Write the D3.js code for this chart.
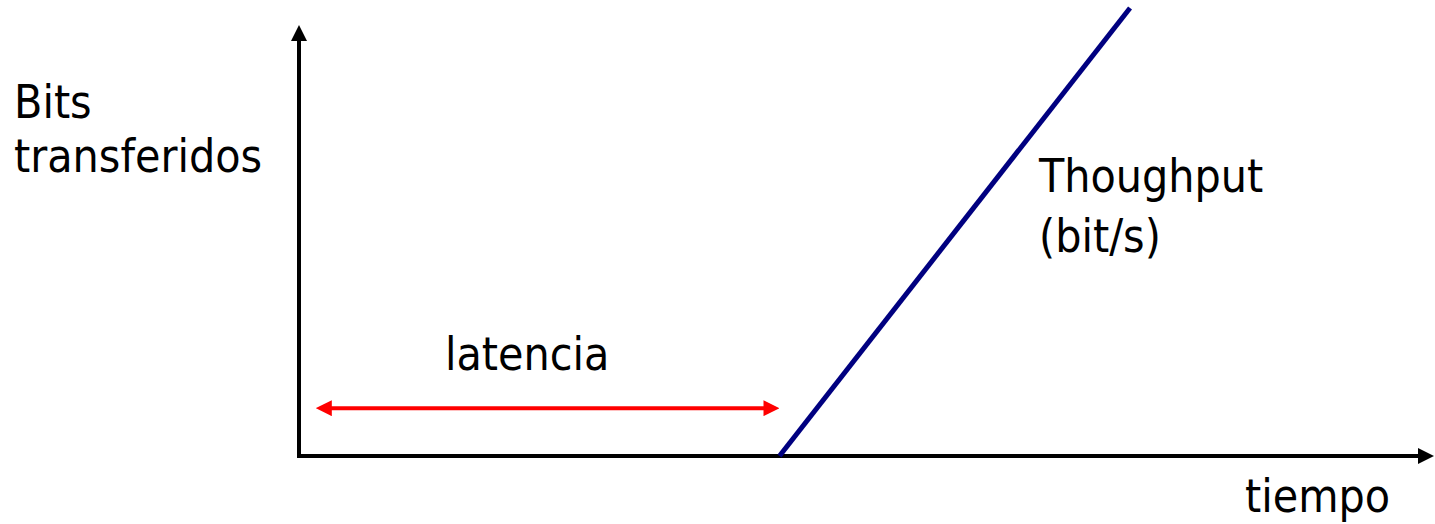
<!DOCTYPE html>
<html>
<head>
<meta charset="utf-8">
<script src="https://cdn.jsdelivr.net/npm/d3@7"></script>
<style>
  body { margin: 0; background: #fff; }
  text { font-family: "DejaVu Sans Condensed", "DejaVu Sans", sans-serif; font-stretch: condensed; font-size: 46px; fill: #000; }
</style>
</head>
<body>
<script>
// chart values (arbitrary units, no ticks on the axes)
let timeExtent = [0, 10];
let bitsExtent = [0, 10];
let latencySpan = [0.15, 4.29];   // red double arrow, start -> end of latency
let latencyLevel = 1.15;          // height of the latency arrow
let throughputTime = [4.29, 7.42];
let throughputBits = [0, 10.77];

let yLabel = ["Bits", "transferidos"];
let xLabel = "tiempo";
let throughputLabel = ["Thoughput", "(bit/s)"];
let latencyLabel = "latencia";

let fullSVGWidth = 1435;
let fullSVGHeight = 524;

let x = d3.scaleLinear().domain(timeExtent).range([299, 1419]);
let y = d3.scaleLinear().domain(bitsExtent).range([456, 40]);

let svg = d3.select("body")
    .append("svg")
    .attr("width", fullSVGWidth)
    .attr("height", fullSVGHeight);

//arrow heads
let defs = svg.append("defs");

function addMarker(id, color, reverse) {
    defs.append("marker")
        .attr("id", id)
        .attr("markerUnits", "userSpaceOnUse")
        .attr("viewBox", "0 0 16 16")
        .attr("markerWidth", 16)
        .attr("markerHeight", 16)
        .attr("refX", reverse ? 15 : 1)
        .attr("refY", 8)
        .attr("orient", "auto")
        .append("path")
        .attr("d", reverse ? "M0,8L16,0L16,16Z" : "M0,0L16,8L0,16Z")
        .attr("fill", color);
}
addMarker("arrow-black", "#000", false);
addMarker("arrow-red-end", "#ff0000", false);
addMarker("arrow-red-start", "#ff0000", true);

//axes
svg.append("line")
    .attr("x1", x(timeExtent[0]))
    .attr("y1", y(bitsExtent[0]))
    .attr("x2", x(timeExtent[0]))
    .attr("y2", y(bitsExtent[1]))
    .attr("stroke", "#000")
    .attr("stroke-width", 4)
    .attr("marker-end", "url(#arrow-black)");

svg.append("line")
    .attr("x1", x(timeExtent[0]) - 2)
    .attr("y1", y(bitsExtent[0]))
    .attr("x2", x(timeExtent[1]))
    .attr("y2", y(bitsExtent[0]))
    .attr("stroke", "#000")
    .attr("stroke-width", 4)
    .attr("marker-end", "url(#arrow-black)");

//throughput line
let line = d3.line()
    .x(d => x(d[0]))
    .y(d => y(d[1]));

svg.append("path")
    .datum(d3.zip(throughputTime, throughputBits))
    .attr("d", line)
    .attr("fill", "none")
    .attr("stroke", "#000080")
    .attr("stroke-width", 5);

//latency arrow
svg.append("line")
    .attr("x1", x(latencySpan[0]) + 15)
    .attr("y1", y(latencyLevel))
    .attr("x2", x(latencySpan[1]) - 15)
    .attr("y2", y(latencyLevel))
    .attr("stroke", "#ff0000")
    .attr("stroke-width", 4)
    .attr("marker-start", "url(#arrow-red-start)")
    .attr("marker-end", "url(#arrow-red-end)");

//labels (multi-line ones as one text with tspans)
function multiLine(lines, xPos, yPos, spacing) {
    let t = svg.append("text")
        .attr("x", xPos)
        .attr("y", yPos);
    t.selectAll("tspan")
        .data(lines)
        .enter()
        .append("tspan")
        .attr("x", xPos)
        .attr("dy", (d, i) => i === 0 ? 0 : spacing)
        .text(d => d);
}

multiLine(yLabel, 14, 118, 54);
multiLine(throughputLabel, 1039, 192, 60);

svg.append("text")
    .attr("x", 445)
    .attr("y", 370)
    .text(latencyLabel);

svg.append("text")
    .attr("x", 1245)
    .attr("y", 512)
    .text(xLabel);
</script>
</body>
</html>
